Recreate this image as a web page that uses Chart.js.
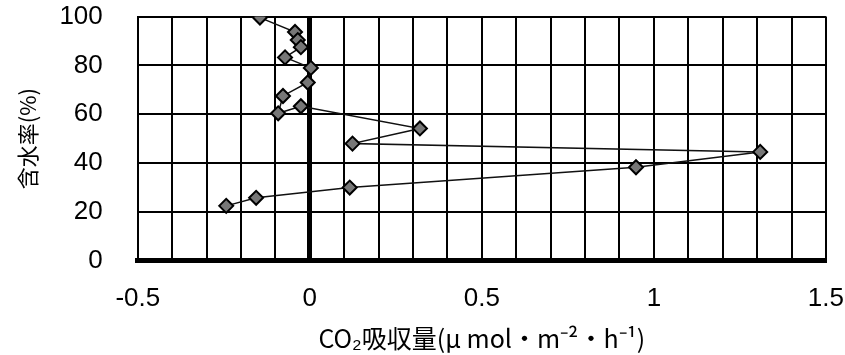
<!DOCTYPE html>
<html>
<head>
<meta charset="utf-8">
<script src="https://cdn.jsdelivr.net/npm/chart.js@4.4.0/dist/chart.umd.min.js"></script>
<style>
  html, body { margin: 0; padding: 0; background: #fff; }
  #wrap { width: 845px; height: 355px; }
</style>
</head>
<body>
<div id="wrap"><canvas id="co2Chart" width="845" height="355"></canvas></div>
<script>
// CO2 uptake (x) vs water content (y), in measurement order
const co2Uptake = [-0.145, -0.043, -0.035, -0.026, -0.072, 0.003, -0.006, -0.078, -0.092, -0.026,
                   0.32, 0.124, 1.309, 0.948, 0.116, -0.156, -0.243];
const waterContent = [99.6, 93.7, 90.4, 87.5, 83.3, 79, 73, 67.5, 60.4, 63.3,
                      54.2, 48, 44.6, 38.3, 30, 25.8, 22.5];
const xTickLabels = [-0.5, 0, 0.5, 1, 1.5];
const yTickLabels = [0, 20, 40, 60, 80, 100];

const tickFont = { family: '"Liberation Sans", Arial, sans-serif', size: 26 };
const xTitleFont = { family: '"Noto Sans CJK JP", sans-serif', size: 25 };
const yTitleFont = { family: '"Noto Sans CJK JP", sans-serif', size: 22 };

const points = co2Uptake.map((x, i) => ({ x: x, y: waterContent[i] }));

function isLabelled(v) {
    return xTickLabels.some(t => Math.abs(t - v) < 1e-6);
}

new Chart(document.getElementById('co2Chart').getContext('2d'), {
    type: 'scatter',
    data: {
        datasets: [{
            data: points,
            showLine: true,
            borderColor: '#111',
            borderWidth: 1.5,
            pointStyle: 'rectRot',
            pointRadius: 7,
            pointBackgroundColor: '#777',
            pointBorderColor: '#000',
            pointBorderWidth: 2
        }]
    },
    options: {
        responsive: false,
        animation: false,
        layout: { padding: { top: 0, right: 0, left: 4, bottom: 2 } },
        plugins: {
            legend: { display: false },
            tooltip: { enabled: false }
        },
        scales: {
            x: {
                type: 'linear',
                min: -0.5,
                max: 1.5,
                border: { display: true, color: '#000', width: 5 },
                grid: {
                    color: '#000',
                    lineWidth: ctx => Math.abs(ctx.tick.value) < 1e-6 ? 5 : 2,
                    drawTicks: true,
                    tickLength: 21,
                    tickColor: 'rgba(0,0,0,0)'
                },
                ticks: {
                    stepSize: 0.1,
                    autoSkip: false,
                    maxRotation: 0,
                    color: '#000',
                    font: tickFont,
                    padding: 1,
                    callback: v => isLabelled(v) ? String(Math.round(v * 10) / 10) : ''
                },
                title: {
                    display: true,
                    text: 'CO₂吸収量(μ mol・m⁻²・h⁻¹)',
                    color: '#000',
                    font: xTitleFont,
                    padding: { top: 8, bottom: 0 }
                }
            },
            y: {
                min: 0,
                max: 100,
                border: { display: true, color: '#000', width: 2 },
                grid: {
                    color: '#000',
                    lineWidth: ctx => ctx.tick.value === 0 ? 5 : 2,
                    drawTicks: true,
                    tickLength: 34,
                    tickColor: 'rgba(0,0,0,0)'
                },
                ticks: {
                    stepSize: 20,
                    color: '#000',
                    font: tickFont,
                    padding: 1
                },
                title: {
                    display: true,
                    text: '含水率(%)',
                    color: '#000',
                    font: yTitleFont,
                    padding: { top: 10, bottom: 18 }
                }
            }
        }
    }
});
</script>
</body>
</html>
